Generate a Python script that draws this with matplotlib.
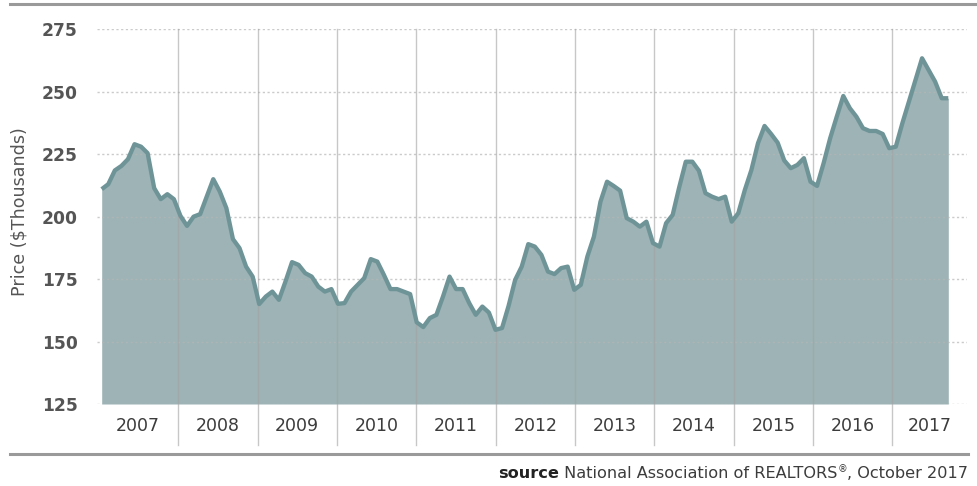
import numpy as np
import pandas as pd
import matplotlib
matplotlib.use("Agg")
import matplotlib.pyplot as plt
import matplotlib.transforms as mtransforms

# ---- data (median existing-home price, $ thousands, monthly Jan 2007 - Oct 2017)
months = pd.date_range("2007-01-01", periods=130, freq="MS")
prices = [
    # 2007
    211, 213, 218.5, 220.3, 223, 229, 228, 225.4, 211.4, 207, 209, 207,
    # 2008
    200.3, 196.3, 200, 201, 208, 215, 210, 203.4, 191, 187.4, 180, 176,
    # 2009
    165, 168, 170, 166.7, 174, 181.8, 180.7, 177.4, 176, 172, 170, 171,
    # 2010
    165.1, 165.4, 170, 172.7, 175.4, 183, 182, 176.7, 171, 171, 170, 169,
    # 2011
    157.7, 155.8, 159.4, 160.7, 168, 176, 171, 171, 165.4, 160.7, 164, 161.6,
    # 2012
    154.7, 155.4, 164.3, 174.7, 180, 189, 188, 184.7, 178, 177, 179.4, 180,
    # 2013
    170.7, 172.7, 184, 192, 206, 214, 212.3, 210.4, 199.4, 198, 196, 198,
    # 2014
    189.4, 188, 197.4, 200.7, 211.8, 222, 222, 218.4, 209.4, 208, 207, 208,
    # 2015
    198, 201.4, 210.7, 218.7, 229.4, 236.3, 233.1, 229.6, 222.5, 219.4, 220.7, 223.4,
    # 2016
    214, 212.3, 221.4, 231.4, 240, 248.3, 243.4, 240, 235.4, 234.3, 234.3, 233.1,
    # 2017
    227.4, 228, 237.4, 246, 254.7, 263.4, 258.7, 254, 247.4, 247.4,
]
year_labels = ["2007", "2008", "2009", "2010", "2011", "2012",
               "2013", "2014", "2015", "2016", "2017"]
y_ticks = [125, 150, 175, 200, 225, 250, 275]
y_label = "Price ($Thousands)"
source_bold = "source"
source_mid = " National Association of REALTORS"
source_reg = "\u00ae"
source_end = ", October 2017"

# ---- styling
LINE = "#6f9498"
FILL = "#9db3b6"
GRID = "#b5b5b5"
SEP = "#a3a3a3"
RULE = "#9a9a9a"
TICK = "#555555"

W, H = 978, 486
fig = plt.figure(figsize=(W / 100, H / 100), dpi=100)

ax_left, ax_right = 97, 967
ax_top, ax_bot = 29.3, 404
ax = fig.add_axes([ax_left / W, 1 - ax_bot / H,
                   (ax_right - ax_left) / W, (ax_bot - ax_top) / H])

x = np.arange(len(prices))
y = np.array(prices, dtype=float)

xmin, xmax = -0.716, 131.85
ax.set_xlim(xmin, xmax)
ax.set_ylim(125, 275)

ax.fill_between(x, y, 125, color=FILL, lw=0, zorder=1)

# gridlines (dashed) on top of fill
for t in y_ticks:
    ax.axhline(t, color=GRID, lw=1.0, ls=(0, (1.6, 1.8)), alpha=0.7, zorder=2)

# year separators
seps = 11.67 + 12.088 * np.arange(10)
trans = mtransforms.blended_transform_factory(ax.transData, ax.transAxes)
for s in seps:
    ax.plot([s, s], [-0.109, 1.0], transform=trans, color=SEP, lw=1.0,
            alpha=0.6, clip_on=False, zorder=3)

ax.plot(x, y, color=LINE, lw=3.1, solid_joinstyle="round",
        solid_capstyle="butt", zorder=4)

# y ticks
ax.set_yticks(y_ticks)
ax.set_yticklabels([str(t) for t in y_ticks], fontsize=12.3, fontweight="bold",
                   color=TICK, family="DejaVu Sans")
ax.tick_params(axis="y", length=0, pad=14)
ax.set_xticks([])

# year labels centered between separators
edges = np.concatenate([[xmin], seps, [xmax]])
centers = (edges[:-1] + edges[1:]) / 2
for c, lab in zip(centers, year_labels):
    ax.text(c, -0.059, lab, transform=trans, ha="center", va="center",
            fontsize=12.5, color="#3c3c3c", family="DejaVu Sans")

for sp in ax.spines.values():
    sp.set_visible(False)

# y label
fig.text(20 / W, 1 - 212 / H, y_label, rotation=90, ha="center", va="center",
         fontsize=12.6, color=TICK, family="DejaVu Sans")

# rules
fig.add_artist(plt.Line2D([10 / W, 1.0], [1 - 4.3 / H] * 2, color=RULE, lw=2.2))
fig.add_artist(plt.Line2D([10 / W, 968 / W], [1 - 454 / H] * 2, color=RULE, lw=2.2))

# source line (right aligned, built from right to left)
yb = 1 - 473 / H
fs = 11.6
fig.canvas.draw()
t_end = fig.text(968 / W, yb, source_end, ha="right", va="center",
                 fontsize=fs, color="#3c3c3c", family="DejaVu Sans")
fig.canvas.draw()
x0 = t_end.get_window_extent().x0
t_reg = fig.text(x0 / W, yb + 4 / H, source_reg, ha="right", va="center",
                 fontsize=7, color="#3c3c3c", family="DejaVu Sans")
fig.canvas.draw()
x0 = t_reg.get_window_extent().x0
t_mid = fig.text(x0 / W, yb, source_mid, ha="right", va="center",
                 fontsize=fs, color="#3c3c3c", family="DejaVu Sans")
fig.canvas.draw()
x0 = t_mid.get_window_extent().x0
fig.text(x0 / W, yb, source_bold, ha="right", va="center",
         fontsize=fs, color="#222222", fontweight="bold", family="DejaVu Sans")

fig.savefig("out.png", dpi=100)
